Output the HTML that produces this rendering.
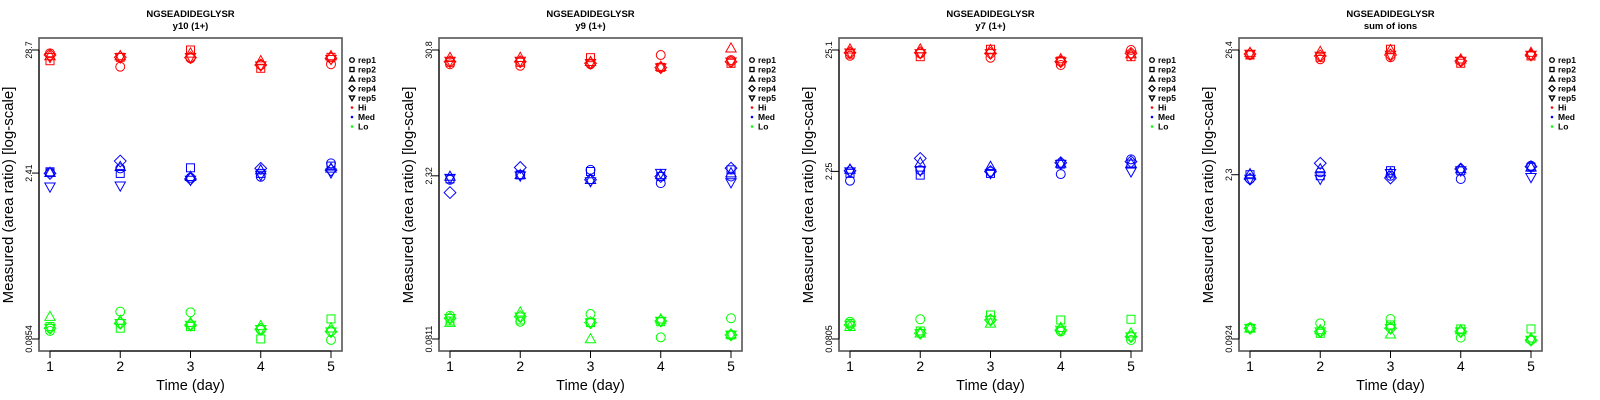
<!DOCTYPE html>
<html><head><meta charset="utf-8"><style>
html,body{margin:0;padding:0;background:#fff;width:1600px;height:400px;overflow:hidden}
svg text{font-family:"Liberation Sans",sans-serif}
</style></head><body>
<svg id="chart" width="1600" height="400" xmlns="http://www.w3.org/2000/svg"></svg>
<script>
// ---- data (log10 of measured area ratio), rows = rep1..rep5, cols = day1..day5 ----
const days = [1,2,3,4,5];
const reps = ["rep1","rep2","rep3","rep4","rep5"];
const levels = ["Hi","Med","Lo"];
const subtitles = ["y10 (1+)","y9 (1+)","y7 (1+)","sum of ions"];
const peptide = "NGSEADIDEGLYSR";
const tickLabels1 = ["28.7","2.41","0.0854"];
const tickLabels2 = ["30.8","2.32","0.0811"];
const tickLabels3 = ["25.1","2.25","0.0805"];
const tickLabels4 = ["26.4","2.3","0.0924"];

const p1Hi = [[1.429,1.312,1.385,1.327,1.333],[1.364,1.394,1.458,1.298,1.394],[1.406,1.406,1.429,1.362,1.406],[1.414,1.394,1.391,1.327,1.385],[1.394,1.394,1.394,1.321,1.377]];
const p1Med = [[0.388,0.423,0.341,0.350,0.467],[0.393,0.379,0.428,0.379,0.443],[0.385,0.437,0.350,0.408,0.423],[0.379,0.487,0.330,0.423,0.408],[0.262,0.271,0.321,0.365,0.385]];
const p1Lo = [[-0.998,-0.829,-0.835,-0.989,-1.077],[-0.960,-0.974,-0.960,-1.068,-0.893],[-0.873,-0.908,-0.926,-0.954,-0.974],[-0.974,-0.931,-0.946,-0.983,-1.004],[-0.974,-0.931,-0.946,-0.983,-1.004]];

const p2Hi = [[1.361,1.348,1.361,1.444,1.399],[1.379,1.379,1.420,1.334,1.370],[1.420,1.420,1.384,1.340,1.504],[1.384,1.384,1.370,1.331,1.384],[1.390,1.390,1.370,1.331,1.384]];
const p2Med = [[0.330,0.374,0.419,0.300,0.359],[0.339,0.374,0.404,0.359,0.419],[0.359,0.374,0.330,0.374,0.390],[0.216,0.440,0.330,0.359,0.434],[0.345,0.3655,0.315,0.390,0.306]];
const p2Lo = [[-0.883,-0.937,-0.868,-1.076,-0.906],[-0.930,-0.921,-0.945,-0.937,-1.055],[-0.945,-0.853,-1.091,-0.915,-1.049],[-0.906,-0.892,-0.945,-0.930,-1.055],[-0.906,-0.892,-0.945,-0.930,-1.055]];

const p3Hi = [[1.350,1.371,1.333,1.270,1.400],[1.365,1.342,1.406,1.305,1.342],[1.406,1.406,1.400,1.322,1.365],[1.376,1.376,1.371,1.299,1.371],[1.376,1.371,1.371,1.299,1.357]];
const p3Med = [[0.272,0.363,0.350,0.329,0.456],[0.335,0.320,0.335,0.415,0.415],[0.369,0.427,0.393,0.421,0.421],[0.358,0.464,0.350,0.427,0.436],[0.350,0.358,0.335,0.415,0.350]];
const p3Lo = [[-0.945,-0.924,-0.930,-1.031,-1.103],[-0.959,-1.025,-0.887,-0.930,-0.924],[-0.988,-1.045,-0.959,-0.997,-1.045],[-0.973,-1.045,-0.930,-1.017,-1.074],[-0.973,-1.045,-0.930,-1.017,-1.074]];

const p4Hi = [[1.379,1.343,1.360,1.328,1.379],[1.379,1.360,1.428,1.309,1.371],[1.399,1.407,1.422,1.343,1.399],[1.388,1.371,1.379,1.328,1.379],[1.388,1.371,1.379,1.328,1.379]];
const p4Med = [[0.325,0.382,0.353,0.325,0.438],[0.362,0.353,0.396,0.396,0.425],[0.368,0.410,0.374,0.410,0.425],[0.325,0.459,0.334,0.410,0.430],[0.325,0.325,0.374,0.396,0.340]];
const p4Lo = [[-0.938,-0.901,-0.864,-1.023,-1.043],[-0.943,-0.986,-0.915,-0.949,-0.949],[-0.943,-0.958,-0.994,-0.958,-1.028],[-0.943,-0.972,-0.943,-0.972,-1.043],[-0.943,-0.972,-0.943,-0.972,-1.043]];

const panels = [
  {ticks:tickLabels1, Hi:p1Hi, Med:p1Med, Lo:p1Lo},
  {ticks:tickLabels2, Hi:p2Hi, Med:p2Med, Lo:p2Lo},
  {ticks:tickLabels3, Hi:p3Hi, Med:p3Med, Lo:p3Lo},
  {ticks:tickLabels4, Hi:p4Hi, Med:p4Med, Lo:p4Lo}
];
const colors = {Hi:"#ff0000", Med:"#0000ff", Lo:"#00ff00"};

const NS = "http://www.w3.org/2000/svg";
const svg = document.getElementById("chart");
function mk(tag, attrs, parent){
  const e = document.createElementNS(NS, tag);
  for (const k in attrs) e.setAttribute(k, attrs[k]);
  (parent||svg).appendChild(e);
  return e;
}
function marker(g, shape, cx, cy, s, color, sw){
  let e;
  if (shape===0) e = mk("circle",{cx:cx,cy:cy,r:s*0.95},g);
  else if (shape===1) e = mk("rect",{x:cx-s*0.85,y:cy-s*0.85,width:s*1.7,height:s*1.7},g);
  else if (shape===2) e = mk("polygon",{points:`${cx},${cy-s*1.15} ${cx-s*1.1},${cy+s*0.8} ${cx+s*1.1},${cy+s*0.8}`},g);
  else if (shape===3) e = mk("polygon",{points:`${cx},${cy-s*1.25} ${cx+s*1.25},${cy} ${cx},${cy+s*1.25} ${cx-s*1.25},${cy}`},g);
  else e = mk("polygon",{points:`${cx},${cy+s*1.15} ${cx-s*1.1},${cy-s*0.8} ${cx+s*1.1},${cy-s*0.8}`},g);
  e.setAttribute("fill","none");
  e.setAttribute("stroke",color);
  e.setAttribute("stroke-width",sw);
  return e;
}

panels.forEach((p, pi) => {
  const ox = pi*400;
  const L = ox+39, R = ox+342, T = 38, B = 351;
  const yTopPx = 50, yBotPx = 339;
  const lt = Math.log10(parseFloat(p.ticks[0])), lb = Math.log10(parseFloat(p.ticks[2]));
  const yScale = v => yTopPx + (lt - v)/(lt - lb)*(yBotPx - yTopPx);
  const xScale = d => (ox+50) + (d-1)*((ox+331)-(ox+50))/4;

  const g = mk("g",{});
  
  

  const t1 = mk("text",{x:(L+R)/2,y:17,"text-anchor":"middle","font-size":"9.5","font-weight":"bold"},g);
  t1.textContent = peptide;
  
  
  const t2 = mk("text",{x:(L+R)/2,y:29,"text-anchor":"middle","font-size":"9.5","font-weight":"bold"},g);
  t2.textContent = subtitles[pi];
  
  

  const box = mk("rect",{x:L,y:T,width:R-L,height:B-T,fill:"none",stroke:"#555","stroke-width":"1.6"},g);
  
  

  // y axis
  const ya = mk("g",{},g);
  
  
  mk("line",{x1:L,y1:yScale(lt),x2:L,y2:yScale(lb),stroke:"#000","stroke-width":"1"},ya);
  p.ticks.forEach(tl => {
    const y = yScale(Math.log10(parseFloat(tl)));
    mk("line",{x1:L-7,y1:y,x2:L,y2:y,stroke:"#000","stroke-width":"1"},ya);
    const tx = mk("text",{x:ox+32,y:y,"text-anchor":"middle","font-size":"9",transform:`rotate(-90 ${ox+32} ${y})`},ya);
    tx.textContent = tl;
    
    
  });
  const yt = mk("text",{x:ox+13,y:195,"text-anchor":"middle","font-size":"15",transform:`rotate(-90 ${ox+13} 195)`},g);
  yt.textContent = "Measured (area ratio) [log-scale]";
  
  

  // x axis
  const xa = mk("g",{},g);
  
  
  mk("line",{x1:xScale(days[0]),y1:B,x2:xScale(days[days.length-1]),y2:B,stroke:"#000","stroke-width":"1"},xa);
  days.forEach(d => {
    const x = xScale(d);
    mk("line",{x1:x,y1:B,x2:x,y2:B+7,stroke:"#000","stroke-width":"1"},xa);
    const tx = mk("text",{x:x,y:371,"text-anchor":"middle","font-size":"14"},xa);
    tx.textContent = d;
    
    
  });
  const xt = mk("text",{x:(L+R)/2,y:390,"text-anchor":"middle","font-size":"14.5"},g);
  xt.textContent = "Time (day)";
  
  

  // points
  levels.forEach(lv => {
    const sg = mk("g",{},g);
    
    
    p[lv].forEach((row, ri) => {
      row.forEach((v, di) => {
        const m = marker(sg, ri, xScale(days[di]), yScale(v), 4.7, colors[lv], 1);
        
        
      });
    });
  });

  // legend
  const lg = mk("g",{},g);
  
  
  const entries = reps.concat(levels);
  entries.forEach((name, i) => {
    const y = 60 + i*9.5;
    const eg = mk("g",{},lg);
    
    
    if (i < 5) marker(eg, i, ox+352, y, 2.4, "#000", 1.3);
    else mk("circle",{cx:ox+352,cy:y,r:1.3,fill:colors[name]},eg);
    const tx = mk("text",{x:ox+358,y:y+3.2,"font-size":"8.5","font-weight":"bold"},eg);
    tx.textContent = name;
  });
});
</script>
</body></html>
